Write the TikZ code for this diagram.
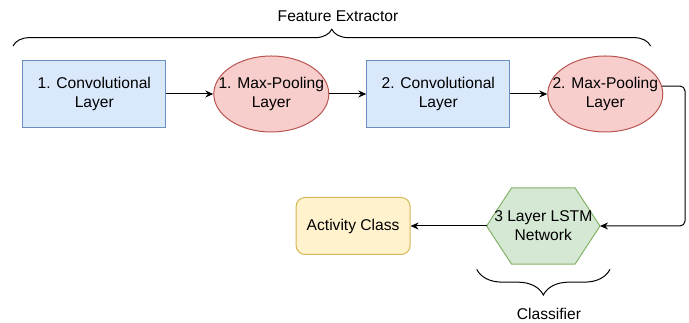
\documentclass[tikz,border=0pt]{standalone}
\usepackage{fontspec}
\setmainfont{Liberation Sans}
\usetikzlibrary{arrows.meta, positioning, backgrounds, decorations.pathreplacing, shapes.geometric}
\definecolor{convFill}{HTML}{DAE8FC}
\definecolor{convLine}{HTML}{6C8EBF}
\definecolor{poolFill}{HTML}{F8CECC}
\definecolor{poolLine}{HTML}{B85450}
\definecolor{lstmFill}{HTML}{D5E8D4}
\definecolor{lstmLine}{HTML}{82B366}
\definecolor{actFill}{HTML}{FFF2CC}
\definecolor{actLine}{HTML}{D6B656}

\begin{document}
\begin{tikzpicture}[
    x=1pt, y=1pt,
    font=\fontsize{15.6}{19}\selectfont,
    conv/.style={draw=convLine, fill=convFill, line width=1pt,
                 minimum width=143pt, minimum height=67pt, align=center},
    pool/.style={ellipse, draw=poolLine, fill=poolFill, line width=1pt, inner sep=0pt,
                 minimum width=115pt, minimum height=76pt, align=center},
    act/.style={draw=actLine, fill=actFill, line width=1pt, rounded corners=9pt,
                minimum width=114pt, minimum height=57pt, align=center},
    arr/.style={-{Stealth[length=8pt, width=7pt]}, line width=1pt},
    grp/.style={decorate, line width=1pt, decoration={brace, amplitude=#1}}
]
  \useasboundingbox (0,0) rectangle (689,323);
  % feature extractor
  \node[conv] (conv1) at (94.3,229) {1. Convolutional\\Layer};
  \node[pool, right=47pt of conv1] (pool1) {\makebox[0pt]{1. Max-Pooling}\\\makebox[0pt]{Layer}};
  \node[conv, right=37pt of pool1] (conv2) {2. Convolutional\\Layer};
  \node[pool, right=37pt of conv2] (pool2) {\makebox[0pt]{2. Max-Pooling}\\\makebox[0pt]{Layer}};
  % classifier
  \node[minimum width=113pt, minimum height=76pt, inner sep=0pt, align=center] (lstm) at (543.3,97)
       {\makebox[0pt]{3 Layer LSTM}\\\makebox[0pt]{Network}};
  \begin{scope}[on background layer]
    \draw[draw=lstmLine, fill=lstmFill, line width=1pt] (lstm.west) -- ([xshift=25pt]lstm.north west)
      -- ([xshift=-25pt]lstm.north east) -- (lstm.east) -- ([xshift=-25pt]lstm.south east)
      -- ([xshift=25pt]lstm.south west) -- cycle;
  \end{scope}
  \node[act, left=76pt of lstm] (act) {Activity Class};
  \coordinate (bend) at (685,0);
  \draw[arr] (conv1) -- (pool1);
  \draw[arr] (pool1) -- (conv2);
  \draw[arr] (conv2) -- (pool2);
  \draw[arr, rounded corners=5pt] (pool2.8) -| (bend |- lstm.east) -- (lstm.east);
  \draw[arr] (lstm.west) -- (act.east);
  % braces
  \coordinate (fe1) at (13,277);
  \coordinate (fe2) at (650.6,277);
  \draw[grp=16.7pt] (fe1) -- (fe2);
  \node (fetext) at (338,306.3) {Feature Extractor};
  \coordinate (cl1) at (610,53.7);
  \coordinate (cl2) at (476.7,53.7);
  \draw[grp=25.7pt] (cl1) -- (cl2);
  \node (cltext) at (549,9) {Classifier};
\end{tikzpicture}
\end{document}
